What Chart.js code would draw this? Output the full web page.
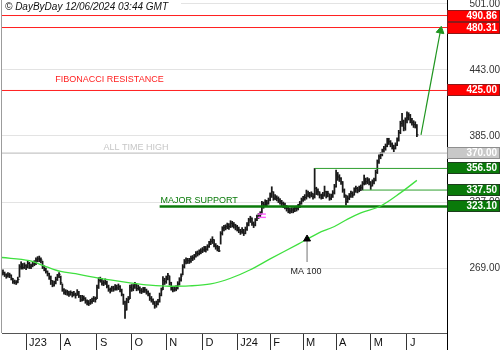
<!DOCTYPE html>
<html>
<head>
<meta charset="utf-8">
<script src="https://cdn.jsdelivr.net/npm/chart.js@4.4.1/dist/chart.umd.min.js"></script>
<style>
  html, body { margin: 0; padding: 0; background: #fff; }
  canvas { display: block; }
</style>
</head>
<body>
<canvas id="c" width="500" height="350"></canvas>
<script>
// ---- chart data -------------------------------------------------------
const titleText = '\u00A9 DayByDay 12/06/2024 03:44 GMT';

// trading-day index of the first session of each month, and its label
const monthStarts = [15, 36, 58, 79, 100, 122, 143, 163, 183, 203, 224, 246];
const monthLabels = ['J23', 'A', 'S', 'O', 'N', 'D', 'J24', 'F', 'M', 'A', 'M', 'J'];

// price axis ticks
const priceTicks = [269, 327, 385, 443, 501];

// daily closes, highs and lows (one entry per trading day)
const closes = [
  264.6,265,263,262,263,262.8,260,257,256.5,256,
  259,270,272,269.5,271,270,273,270,271,272.5,
  273,276,277,276.5,276,270,268.5,266,264,261.4,
  258,254,255.5,259,262,263.5,256,250,247.5,248,
  247,246,247.5,245.5,246,245,247.3,244.5,241,243,
  242.4,240,238.5,238,239.5,240,242,241.5,252,258,
  259.5,255.6,256,257,253,250,249,251.5,250.5,252.5,
  251.5,252.6,250,246,239,232,240.9,241.5,252,250.5,
  252.5,255,251,252,249,248.5,250,249.7,248,246.5,
  242.4,241,239.4,236,237.5,239.4,245,249.7,258,257,
  259,262.5,256,251,249.7,250.5,251.1,255,258.5,262,
  270,274.5,276,275.4,275,277.5,278,279,282,281.5,
  283.3,283.8,285,286.3,285.5,287.7,290.7,292.5,294,289.2,
  287.7,286.3,284,299.5,303.9,304.5,305.3,306.8,305.5,308.3,
  307.5,306.8,305.3,304,302.4,300.9,302.4,299.5,303,307,
  311.2,312.7,308.3,306.8,311.2,314.1,315.6,316,325.9,324.4,
  327.3,326,328.8,333.1,336,330.3,331.5,330.3,328.8,327.3,
  325.9,324.4,323.5,321.4,320,319.1,320,319.5,321.4,321.4,
  322.9,325.9,328.8,330.3,331,333.1,334.6,333.1,334.6,331.7,
  339,336,336,333.1,331.7,333,336,333,334.6,330.3,
  331.7,335,340.4,350.7,349,347.8,344.8,337.5,333.1,327.3,
  330.3,332,334.6,333.1,337.5,338.9,337.5,339,339.5,343.4,
  346.3,344.8,346.3,344.5,341,344.8,346.3,353,362.4,366.8,
  368.5,372,374.2,376,381.5,380,378,376,374.2,377.1,
  381.5,388,396,398,392,399,401,403.4,399,397,
  395,394.7,386
];
const highs = [
  267,267.5,265.5,264,265,264.5,263,260,258.5,258,
  261,272,274.5,273,273.5,272,275,274,272.5,274.5,
  275.5,278,279,279.5,278,275,271,269,266.5,264.5,
  262,258,257.5,261,263.5,265,262,255,251,250,
  249.5,248.5,249,248,248.5,247,250,248.5,245,245,
  244.5,243,241,240.5,241.5,242.5,244,243.5,254,260.5,
  261,260,258,259.5,257.5,254,251.5,253,253,254.5,
  254,255,253.5,250.5,246,240,242.5,244,254,254.5,
  254.5,256.5,255,254,252.5,251,252,252,250.5,249,
  247,244,242,239.5,240,241.5,247,251.5,261.5,260,
  262,264.3,262,256.5,252.5,253,253.5,257,260.5,264,
  272,276.5,278,277.5,277.5,279.5,280,281,283.5,284,
  285,286,287,288,288,289.5,292.5,294.5,296.5,294,
  290.5,289,288,301,305.3,306.5,307,308.5,308,310.6,
  310,309,307.5,306.5,305,303,304.5,303,305,309,
  312.7,314.5,313,309.5,312.5,315.5,317,318.5,327.5,327,
  329,328.5,330.5,335,340.4,336,333.5,332.5,331.5,330,
  328.5,327,326,324,322.5,321.5,322,322,323,323.5,
  325,327.5,330.5,332,333.5,337.5,336.5,335.5,336,334.5,
  356.5,340,338.5,336,334,335.5,341,336.5,336.5,334,
  334,337,342.5,355.1,353,351,348.5,345,338.5,333,
  332.5,334.5,336.5,336,339.5,341,340,341,342,345,
  350.7,348,348.5,347.5,345,346.5,348,355,364,368.5,
  370.5,373.5,376,378,383,383,381,379,377,379,
  383.5,390,398,405,399,401,406.3,405.5,404,400.5,
  398.5,397.5,395
];
const lows = [
  262,263,261.5,260,261,260.5,258.5,255.5,255,254.5,
  256,261,268,268,268.5,267.5,269,268.5,268.5,270,
  271,272,274.5,274.5,273.5,268.5,266.5,264.5,262,259,
  254.5,252.5,253,255,258,260.5,254.5,248.5,246,245.5,
  245,244,245,243.5,244.5,242.5,245,243,239.5,240,
  240.5,238,236.5,236,237,238,239.5,239,242,251,
  256.5,254,253.5,254.5,251.5,248.5,247,248.5,248.5,249.5,
  249.5,250,248,244.5,237,224.8,232,238.5,242,248.5,
  249,251,249,249.5,247,246.5,247.5,247.5,246,244.5,
  240.5,239,237,233.6,234.5,236.5,239,244.5,250,254.5,
  255.5,258.5,254,249.5,248,248.5,249,250.5,254,257.5,
  263,269,272.5,273,273,274,275.5,276.5,278.5,279.5,
  280.5,281.5,282.5,283.5,283,284.5,287,289.5,290.5,287.5,
  285.5,284,283.3,290,298,301.5,302.5,303.5,303,304.5,
  305,304,302.5,301.5,300,298.5,299.5,297.5,299,302,
  306,309,306.5,304.5,306,310.5,312.5,313.5,317,321.5,
  323,323.5,325,328,331,328.5,329,328,326.5,325,
  323.5,322,321,319,317.5,317,317.5,317.5,318.5,319,
  320,322,325,327.5,328.5,329.5,331.5,330.5,331.5,329.5,
  330.5,333.5,333,330.5,329.5,330,332,330.5,331.5,328.5,
  329,331,334,340,346,345,342.5,335.5,331,324.4,
  326.5,329,331,331,333,335.5,335,336,337,337.5,
  342,342.5,343,342,338,341,343,345.5,352,361,
  365,367.5,370.5,372.5,375.5,377.5,375.5,373.5,371.2,373.5,
  376.5,380.5,387,393.5,389.5,390,396.5,399,396.5,394.5,
  392.5,392,384.5
];

// 100-day moving average, sampled along the series
const maIndex  = [0, 17, 27, 36, 45, 54, 66, 78, 90, 102, 114, 127, 139, 151, 163, 180, 192, 202, 210, 218, 230, 242, 252];
const maValues = [278.3, 275.4, 270.3, 266, 264, 261.5, 258.5, 256, 254, 253, 253.3, 255, 260, 267.5, 277, 290, 299.5, 305.5, 312, 317.5, 323.5, 335, 346];

// horizontal levels, where each one starts, and what kind it is
const levelValues = [490.86, 480.31, 425.00, 370.00, 356.50, 337.50, 323.10];
const levelStarts = [null, null, null, null, 190, 219, 96];
const levelKinds  = ['res', 'res', 'res', 'ath', 'sup', 'sup', 'major'];

// text notes on the chart
const noteTexts = ['FIBONACCI RESISTANCE', 'ALL TIME HIGH', 'MAJOR SUPPORT', 'MA 100'];
const noteKinds = ['res', 'ath', 'major', 'plain'];

// event marker (two short ticks) on one session
const eventIndex = 158;
const eventValues = [316.4, 313.5];

// projected move arrow and the MA pointer arrow: [index, price] pairs
const trendArrow = [[254.5, 386], [266.3, 477.5]];
const maArrow    = [[185.4, 274.2], [185.4, 294.5]];

// ---- layout & styling -------------------------------------------------
const X_MIN = 0.4, X_MAX = 270.26;
const Y_MIN = 211.9, Y_MAX = 504.5;
const FONT = "'Liberation Sans', Arial, sans-serif";
Chart.defaults.font.family = FONT;

const kindStyle = {
  res:   { line: '#ff1f1f', width: 1,   box: '#ff0000', border: '#8b1a1a', text: '#ffffff' },
  ath:   { line: '#c6c6c6', width: 1.3, box: '#c8c8c8', border: '#8e8e8e', text: '#ffffff' },
  sup:   { line: '#2f9f2f', width: 1,   box: '#0a7a0a', border: '#1d3d1d', text: '#ffffff' },
  major: { line: '#0a7a0a', width: 2.6, box: '#0a7a0a', border: '#1d3d1d', text: '#ffffff' },
  plain: { line: '#222222', width: 1,   box: '#ffffff', border: '#000000', text: '#222222' }
};
// note anchors in data space (index, price)
const noteAnchors = [[65.6, 434.2], [81.7, 375.3], [119.9, 328.4], [184.8, 266.3]];

const barData = closes.map((c, i) => ({ x: i, y: [lows[i], highs[i]] }));
const closeTicks = closes.map((c, i) => ({ x: i + 0.45, y: c }));

const levelSets = levelValues.map((v, k) => {
  const st = kindStyle[levelKinds[k]];
  return {
    type: 'line',
    data: [{ x: levelStarts[k] ?? X_MIN - 1, y: v }, { x: X_MAX + 1, y: v }],
    borderColor: st.line, borderWidth: st.width,
    pointRadius: 0, fill: false, tension: 0, order: 3
  };
});

function arrowSet(pts, color, lineColor, headRadius) {
  return {
    type: 'line',
    data: pts.map(p => ({ x: p[0], y: p[1] })),
    borderColor: lineColor, borderWidth: 1.2, fill: false, tension: 0,
    pointRadius: [0, headRadius],
    pointStyle: 'triangle',
    pointBackgroundColor: color, pointBorderColor: color, pointBorderWidth: 1,
    pointRotation: (ctx) => {
      const ch = ctx.chart, xs = ch.scales.x, ys = ch.scales.y;
      const dx = xs.getPixelForValue(pts[1][0]) - xs.getPixelForValue(pts[0][0]);
      const dy = ys.getPixelForValue(pts[1][1]) - ys.getPixelForValue(pts[0][1]);
      return Math.atan2(dx, -dy) * 180 / Math.PI;
    },
    order: 1
  };
}

const decor = {
  id: 'decor',
  afterDraw(chart) {
    const { ctx, chartArea: a, scales: { x, y } } = chart;
    ctx.save();

    // title on a white plate
    ctx.font = 'italic 10px ' + FONT;
    const tw = ctx.measureText(titleText).width;
    ctx.fillStyle = '#ffffff';
    ctx.fillRect(0, 0, tw + 18, 13);
    ctx.fillStyle = '#111111';
    ctx.textAlign = 'left'; ctx.textBaseline = 'alphabetic';
    ctx.fillText(titleText, a.left + 3, 10);

    // frame: left edge and the right axis rule down to the bottom
    ctx.lineWidth = 1;
    ctx.strokeStyle = '#9c9c9c';
    ctx.beginPath(); ctx.moveTo(a.left - 0.5, a.top); ctx.lineTo(a.left - 0.5, a.bottom); ctx.stroke();
    ctx.strokeStyle = '#000000';
    const rx = Math.round(a.right) + 0.5;
    ctx.beginPath(); ctx.moveTo(rx, a.bottom); ctx.lineTo(rx, chart.height); ctx.stroke();

    // notes
    ctx.font = '9px ' + FONT;
    ctx.textAlign = 'center'; ctx.textBaseline = 'middle';
    noteTexts.forEach((t, k) => {
      ctx.fillStyle = kindStyle[noteKinds[k]].line;
      ctx.fillText(t, x.getPixelForValue(noteAnchors[k][0]), y.getPixelForValue(noteAnchors[k][1]));
    });

    // value boxes on the price axis
    ctx.font = 'bold 10px ' + FONT;
    ctx.textAlign = 'right'; ctx.textBaseline = 'middle';
    levelValues.forEach((v, k) => {
      const st = kindStyle[levelKinds[k]];
      const py = Math.round(y.getPixelForValue(v));
      const x0 = rx, x1 = chart.width - 0.5;
      ctx.fillStyle = st.box;
      ctx.fillRect(x0, py - 5.5, x1 - x0, 11);
      ctx.strokeStyle = st.border;
      ctx.strokeRect(x0, py - 5.5, x1 - x0, 11);
      ctx.fillStyle = st.text;
      ctx.fillText(v.toFixed(2), chart.width - 3, py + 0.5);
    });
    ctx.restore();
  }
};

new Chart(document.getElementById('c'), {
  type: 'bar',
  data: {
    datasets: [
      arrowSet(trendArrow, '#1f951f', '#1f951f', 4.5),
      arrowSet(maArrow, '#000000', '#8a8a8a', 4),
      {
        type: 'scatter',
        data: eventValues.map(v => ({ x: eventIndex, y: v })),
        pointStyle: 'line', pointRadius: 4, pointBorderWidth: 1.4,
        pointBorderColor: '#ff5cff', order: 1
      },
      {
        type: 'line',
        data: maIndex.map((i, k) => ({ x: i, y: maValues[k] })),
        borderColor: '#3fe03f', borderWidth: 1.3, pointRadius: 0,
        fill: false, cubicInterpolationMode: 'monotone', order: 2
      },
      ...levelSets,
      {
        type: 'scatter',
        data: closeTicks,
        pointStyle: 'line', pointRadius: 0.9, pointBorderWidth: 1,
        pointBorderColor: '#1a1a1a', order: 9
      },
      {
        type: 'bar',
        data: barData,
        backgroundColor: '#1a1a1a', borderWidth: 0,
        barThickness: 1.1, grouped: false, order: 10
      }
    ]
  },
  options: {
    responsive: false,
    animation: false,
    devicePixelRatio: 1,
    events: [],
    layout: { autoPadding: false, padding: { left: 2, right: 0, top: 0, bottom: 0 } },
    plugins: { legend: { display: false }, tooltip: { enabled: false }, title: { display: false } },
    scales: {
      x: {
        type: 'linear', position: 'bottom', min: X_MIN, max: X_MAX, offset: false,
        grid: { drawOnChartArea: false, drawTicks: true, tickLength: 17, color: '#333333', offset: false },
        border: { display: true, color: '#555555' },
        ticks: {
          autoSkip: false, maxRotation: 0, minRotation: 0, align: 'start',
          labelOffset: 3, padding: -14, color: '#111111', font: { size: 11 },
          callback: (v, i) => monthLabels[i] ?? ''
        },
        afterBuildTicks: s => { s.ticks = monthStarts.map(v => ({ value: v })); },
        afterFit: s => { s.height = 17; s.paddingLeft = 0; s.paddingRight = 0; }
      },
      y: {
        type: 'linear', position: 'right', min: Y_MIN, max: Y_MAX,
        grid: { color: '#e3e3e3', drawTicks: false },
        border: { display: true, color: '#000000' },
        ticks: { crossAlign: 'far', padding: 18, color: '#333333', font: { size: 10 },
                 callback: v => Number(v).toFixed(2) },
        afterBuildTicks: s => { s.ticks = priceTicks.map(v => ({ value: v })); },
        afterFit: s => { s.width = 53; s.paddingTop = 0; s.paddingBottom = 0; }
      }
    }
  },
  plugins: [decor]
});
</script>
</body>
</html>
